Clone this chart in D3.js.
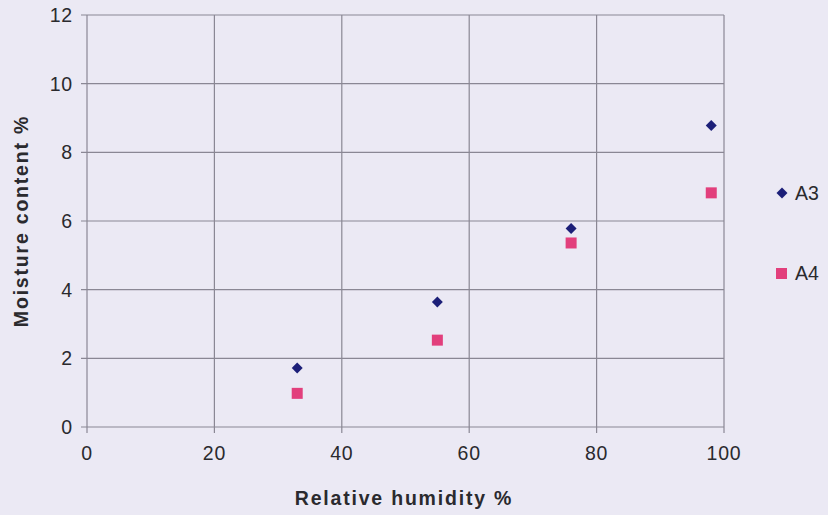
<!DOCTYPE html>
<html><head><meta charset="utf-8">
<script src="https://cdn.jsdelivr.net/npm/d3@7"></script>
<style>html,body{margin:0;padding:0;background:#ebe9f4;}svg{display:block;}</style>
</head><body>
<script>
const humidity = [33, 55, 76, 98];
const seriesA3 = [1.72, 3.64, 5.78, 8.78];
const seriesA4 = [0.98, 2.53, 5.36, 6.82];
const seriesNames = ["A3", "A4"];
const xTicks = [0, 20, 40, 60, 80, 100];
const yTicks = [0, 2, 4, 6, 8, 10, 12];

const W = 828, H = 515;
const svg = d3.select("body").append("svg").attr("width", W).attr("height", H);
svg.append("rect").attr("width", W).attr("height", H).attr("fill", "#ebe9f4");

const x = d3.scaleLinear().domain([0, 100]).range([87, 724]);
const y = d3.scaleLinear().domain([0, 12]).range([427, 15]);
const gridColor = "#8a8794";
const textColor = "#2a2a2e";
const font = "Liberation Sans, Arial, sans-serif";

// grid
svg.append("g").selectAll("line").data(yTicks).join("line")
  .attr("x1", x(0) - 6).attr("x2", x(100))
  .attr("y1", d => y(d)).attr("y2", d => y(d))
  .attr("stroke", gridColor).attr("stroke-width", 1.2);
svg.append("g").selectAll("line").data(xTicks).join("line")
  .attr("x1", d => x(d)).attr("x2", d => x(d))
  .attr("y1", y(12)).attr("y2", y(0) + 6)
  .attr("stroke", gridColor).attr("stroke-width", 1.2);

// tick labels
svg.append("g").selectAll("text").data(yTicks).join("text")
  .attr("x", x(0) - 14).attr("y", d => y(d) + 7)
  .attr("text-anchor", "end").attr("font-family", font).attr("font-size", 19.5)
  .attr("letter-spacing", 0.8)
  .attr("fill", textColor).text(d => d);
svg.append("g").selectAll("text").data(xTicks).join("text")
  .attr("x", d => x(d)).attr("y", y(0) + 33)
  .attr("text-anchor", "middle").attr("font-family", font).attr("font-size", 19.5)
  .attr("letter-spacing", 0.8)
  .attr("fill", textColor).text(d => d);

// axis titles
svg.append("text").attr("x", 404).attr("y", 505).attr("text-anchor", "middle")
  .attr("font-family", font).attr("font-size", 19.5).attr("font-weight", "bold")
  .attr("letter-spacing", 1.8)
  .attr("fill", textColor).text("Relative humidity %");
svg.append("text").attr("transform", "translate(28,221) rotate(-90)").attr("text-anchor", "middle")
  .attr("font-family", font).attr("font-size", 19.5).attr("font-weight", "bold")
  .attr("letter-spacing", 1.8)
  .attr("fill", textColor).text("Moisture content %");

const colors = {A3: "#1c1f78", A4: "#e23f7c"};
const diamond = d3.symbol().type(d3.symbolSquare).size(60);
// A3 diamonds
svg.append("g").selectAll("path").data(humidity.map((h, i) => [h, seriesA3[i]])).join("path")
  .attr("d", diamond)
  .attr("transform", d => `translate(${x(d[0])},${y(d[1])}) rotate(45)`)
  .attr("fill", colors.A3);
// A4 squares
svg.append("g").selectAll("rect").data(humidity.map((h, i) => [h, seriesA4[i]])).join("rect")
  .attr("x", d => x(d[0]) - 5.5).attr("y", d => y(d[1]) - 5.5)
  .attr("width", 11).attr("height", 11).attr("fill", colors.A4);

// legend
const leg = svg.append("g");
leg.append("path").attr("d", diamond).attr("transform", "translate(782,193) rotate(45)").attr("fill", colors.A3);
leg.append("rect").attr("x", 776).attr("y", 268).attr("width", 11).attr("height", 11).attr("fill", colors.A4);
leg.selectAll("text").data(seriesNames).join("text")
  .attr("x", 795).attr("y", (d, i) => i === 0 ? 200 : 280)
  .attr("font-family", font).attr("font-size", 19.5).attr("fill", textColor).text(d => d);
</script>
</body></html>
